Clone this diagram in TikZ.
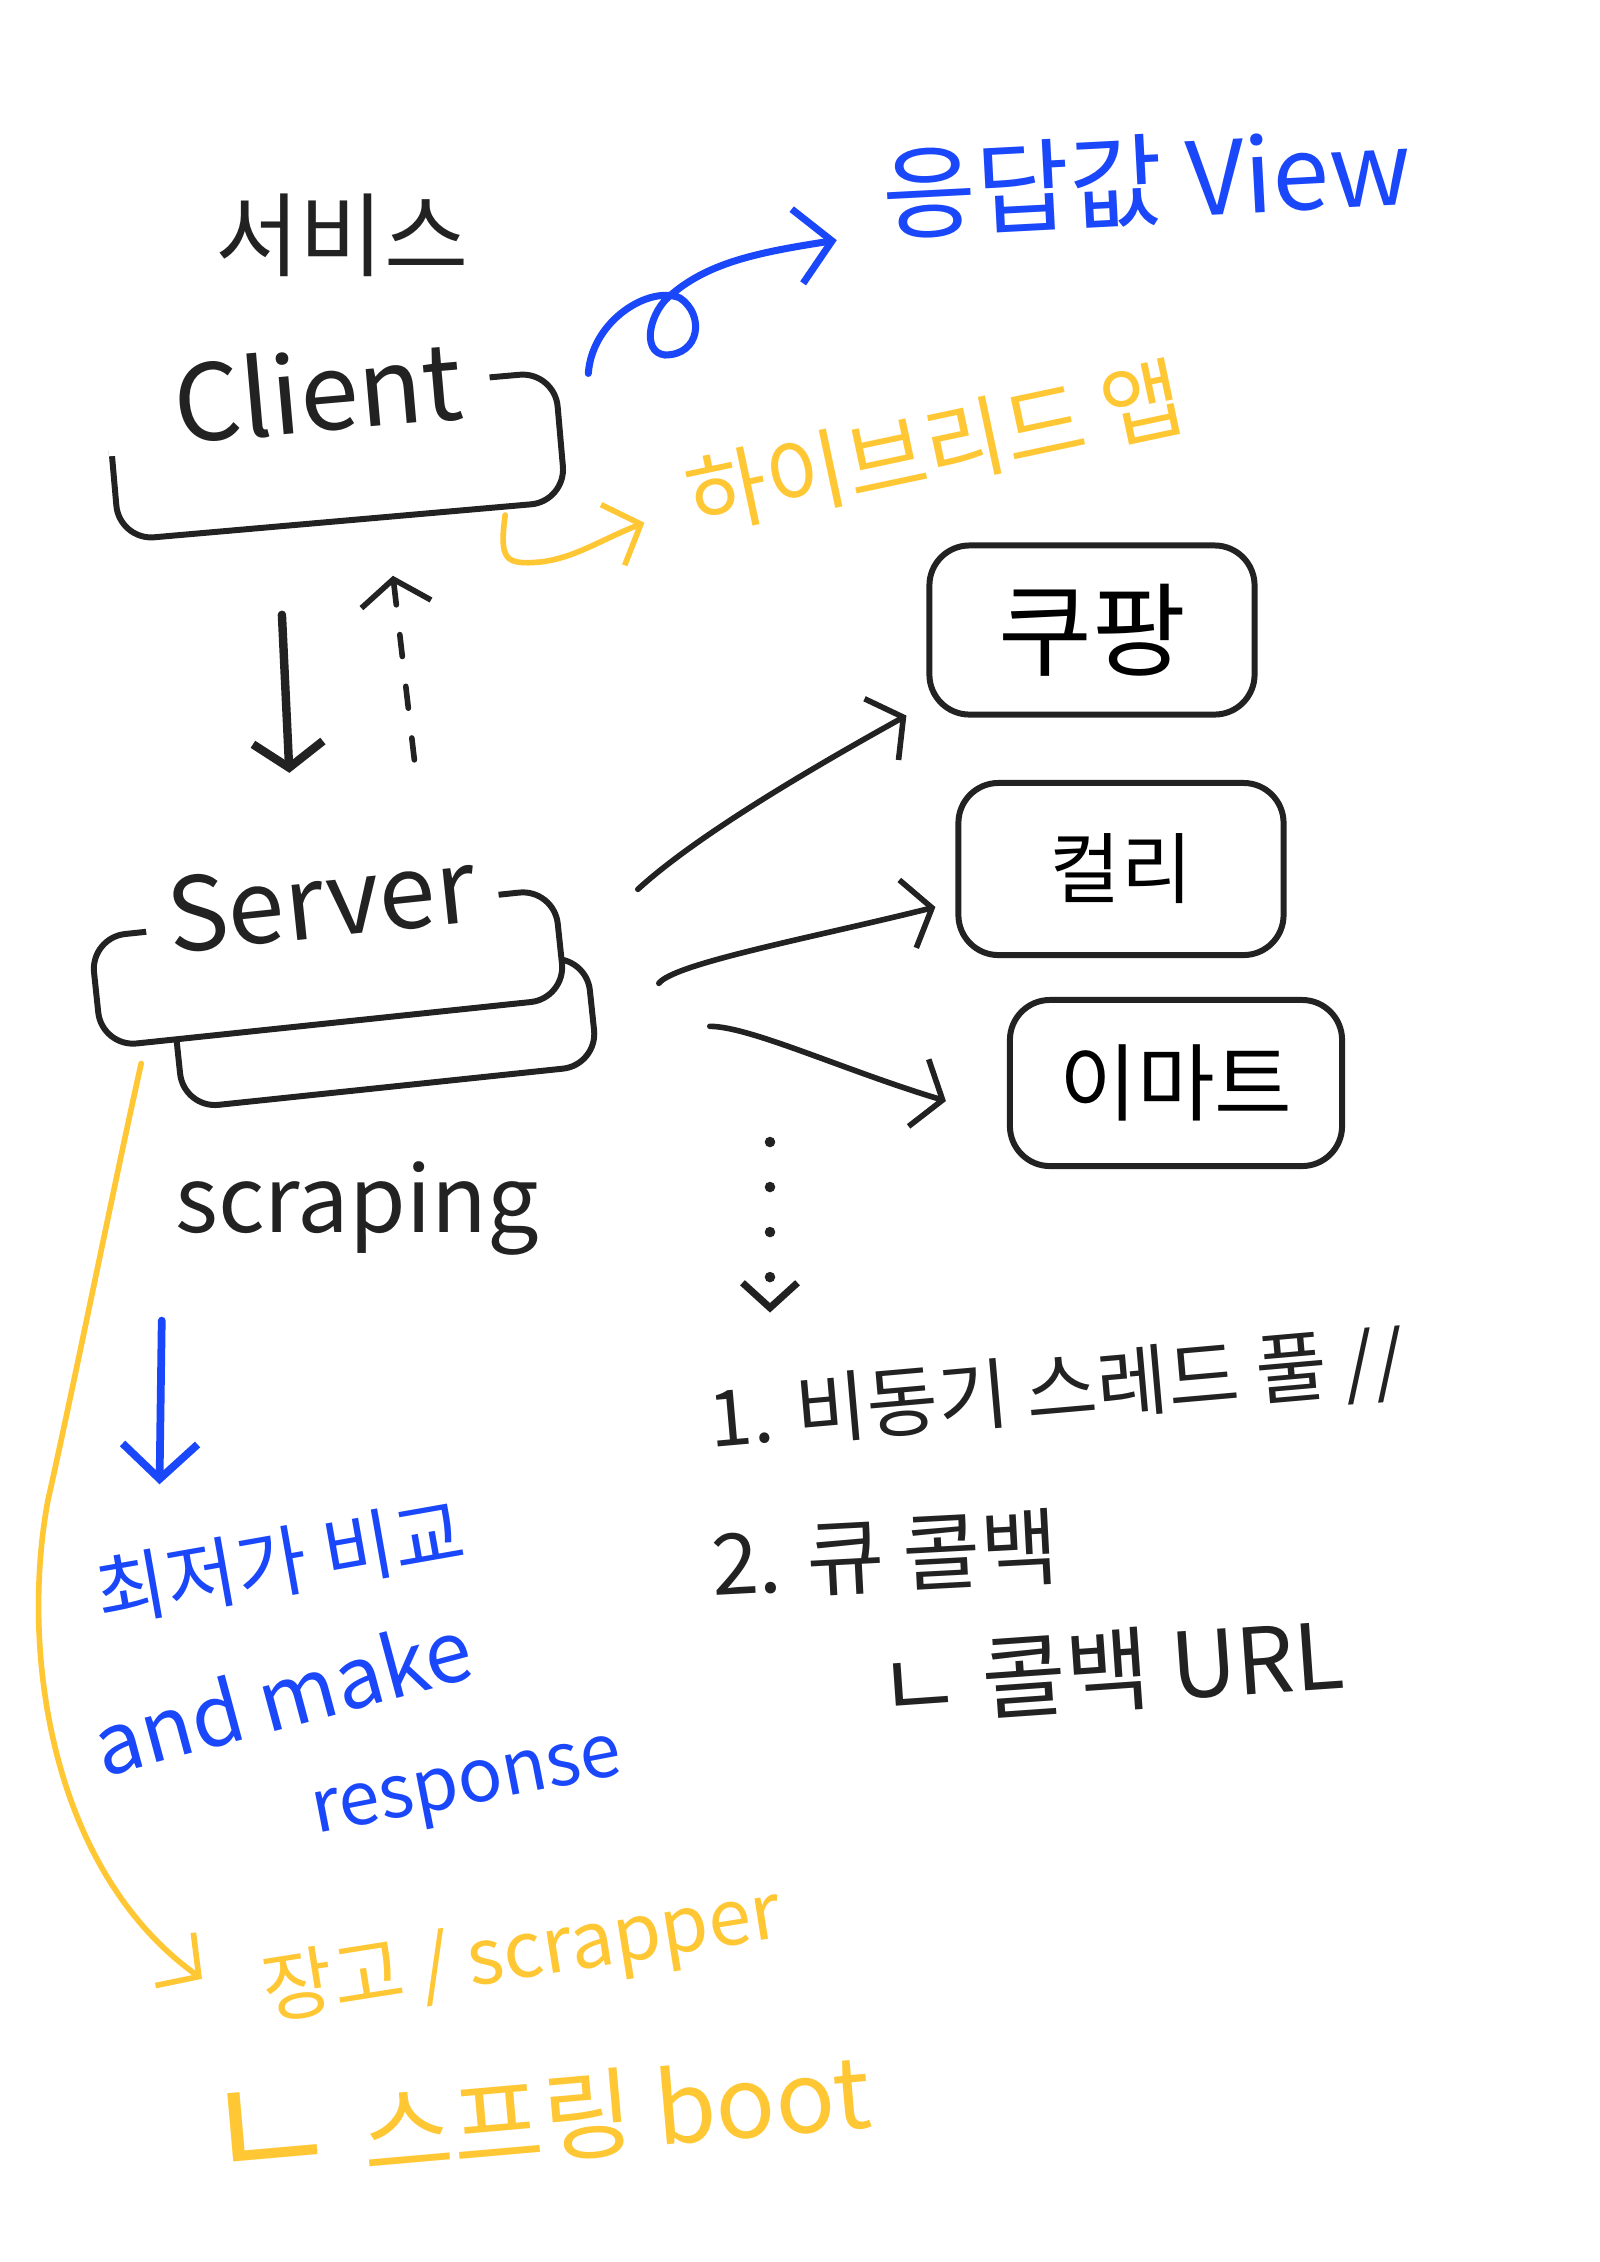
\documentclass[tikz,border=0pt]{standalone}
\usepackage{fontspec}
\setmainfont{Noto Sans CJK KR}
\usetikzlibrary{positioning, calc, arrows.meta}

\definecolor{pen}{HTML}{222222}
\definecolor{bluepen}{HTML}{1A47FA}
\definecolor{yellowpen}{HTML}{FFC733}

\begin{document}
\begin{tikzpicture}[x=0.01cm, y=-0.01cm,
    box/.style={draw=pen, line width=1.7pt, fill=white, rounded corners=0.35cm},
    tag/.style={fill=white, inner sep=0.05cm, text=pen},
    note/.style={inner sep=0.05cm, text=pen},
    bluenote/.style={inner sep=0.05cm, text=bluepen},
    yellownote/.style={inner sep=0.05cm, text=yellowpen},
    arrow/.style={draw=pen, line width=1.6pt, line cap=round, -{Straight Barb[length=0.25cm, width=0.7cm]}},
    dasharrow/.style={arrow, dash pattern=on 0.22cm off 0.3cm},
    dotarrow/.style={arrow, line width=3pt, dash pattern=on 0pt off 0.45cm, -{Straight Barb[length=0.25cm, width=0.55cm, line width=2pt]}},
    bluearrow/.style={draw=bluepen, line width=2pt, line cap=round, -{Straight Barb[length=0.35cm, width=0.75cm]}},
    yellowarrow/.style={draw=yellowpen, line width=1.6pt, line cap=round, -{Straight Barb[length=0.3cm, width=0.65cm]}}
]
\fill[white] (0,0) rectangle (1600,2262);
\useasboundingbox (0,0) rectangle (1600,2262);

% 서비스 / Client
\node[note, font=\fontsize{26pt}{28pt}\selectfont] (title) at (342,235) {서비스};
\node[box, rotate=5, minimum width=4.48cm, minimum height=1.3cm] (client) at (337,456) {};
\node[tag, rotate=5, text width=3.3cm, inner xsep=0.28cm, align=right, font=\fontsize{30pt}{32pt}\selectfont] (clientlabel) at (297,392) {Client};

% Server 와 scraping
\node[box, rotate=6, minimum width=4.16cm, minimum height=1.1cm] (scraper) at (385,1032) {};
\node[box, rotate=6, minimum width=4.66cm, minimum height=1.1cm] (server) at (328,968) {};
\node[tag, rotate=6, minimum width=3.54cm, font=\fontsize{29pt}{31pt}\selectfont] (serverlabel) at (321,900) {Server};
\node[note, font=\fontsize{26pt}{28pt}\selectfont] (scraping) at (357,1208) {scraping};

% 쇼핑몰
\node[box, rounded corners=0.4cm, minimum width=3.25cm, minimum height=1.69cm, font=\fontsize{29pt}{31pt}\selectfont] (coupang) at (1092,630) {쿠팡};
\node[box, rounded corners=0.4cm, minimum width=3.25cm, minimum height=1.72cm, font=\fontsize{22pt}{24pt}\selectfont] (kurly) at (1121,869) {컬리};
\node[box, rounded corners=0.4cm, minimum width=3.32cm, minimum height=1.66cm, font=\fontsize{24pt}{26pt}\selectfont] (emart) at (1176,1083) {이마트};

% 메모
\node[note, rotate=5, font=\fontsize{22pt}{24pt}\selectfont] (notes1) at (1057,1392) {1. 비동기 스레드 풀 //};
\node[note, rotate=3, font=\fontsize{24pt}{26pt}\selectfont] (notes2) at (885,1555) {2. 큐 콜백};
\node[note, rotate=4, font=\fontsize{26pt}{28pt}\selectfont] (notes3) at (1111,1670) {ㄴ 콜백 URL};

\node[bluenote, rotate=3, font=\fontsize{29pt}{31pt}\selectfont] (view) at (1147,180) {응답값 View};
\node[bluenote, rotate=10, font=\fontsize{22pt}{24pt}\selectfont] (cheapest) at (280,1562) {최저가 비교};
\node[bluenote, rotate=15, font=\fontsize{24pt}{26pt}\selectfont] (make) at (282,1695) {and make};
\node[bluenote, rotate=11, font=\fontsize{21pt}{23pt}\selectfont] (response) at (468,1792) {response};

\node[yellownote, rotate=12, font=\fontsize{25pt}{27pt}\selectfont] (hybrid) at (935,447) {하이브리드 앱};
\node[yellownote, rotate=9, font=\fontsize{22pt}{24pt}\selectfont] (django) at (522,1955) {장고 / scrapper};
\node[yellownote, rotate=5, font=\fontsize{28pt}{30pt}\selectfont] (spring) at (537,2115) {{\fontsize{42pt}{42pt}\selectfont ㄴ} 스프링 boot};

% 화살표
\draw[arrow, line width=2.4pt] ($(client.south)+(-61,91)$) -- ($(serverlabel.north)+(-27,-83)$);
\draw[dasharrow] ($(serverlabel.north)+(98,-96)$) -- ($(client.south)+(50,52)$);

\draw[arrow] ($(server.east)+(75,-54)$) .. controls +(60,-55) and +(-90,50) .. ($(coupang.south west)+(-20,-2)$);
\draw[arrow] ($(server.east)+(96,40)$) .. controls +(15,-20) and +(-120,30) .. ($(kurly.west)+(-20,38)$);
\draw[arrow] ($(server.east)+(147,83)$) .. controls +(40,0) and +(-100,-30) .. ($(emart.west)+(-61,18)$);

\coordinate (more) at (770,1142);
\draw[dotarrow, shorten >=0.35cm] (more) -- (more |- notes1.north);

\draw[bluearrow] ($(client.north east)+(31,5)$) .. controls (592,320) and (650,285) .. (680,298)
    .. controls (705,315) and (700,355) .. (665,355) .. controls (640,352) and (650,310) .. (672,294)
    .. controls (710,262) and (760,252) .. ($(view.west)+(-40,46)$);
\draw[bluearrow, line width=2.2pt] ($(scraping.south west)+(-8,60)$) -- ($(cheapest.north west)+(76,-71)$);

\draw[yellowarrow] ($(client.south east)+(-64,11)$) .. controls +(-6,45) and (505,565) .. (540,562)
    .. controls (575,558) and (600,540) .. ($(hybrid.west)+(-38,22)$);
\draw[yellowarrow] ($(server.south west)+(42,13)$) .. controls (115,1180) and (75,1380) .. (48,1500)
    .. controls (20,1650) and (50,1870) .. ($(django.west)+(-56,-18)$);

\end{tikzpicture}
\end{document}
